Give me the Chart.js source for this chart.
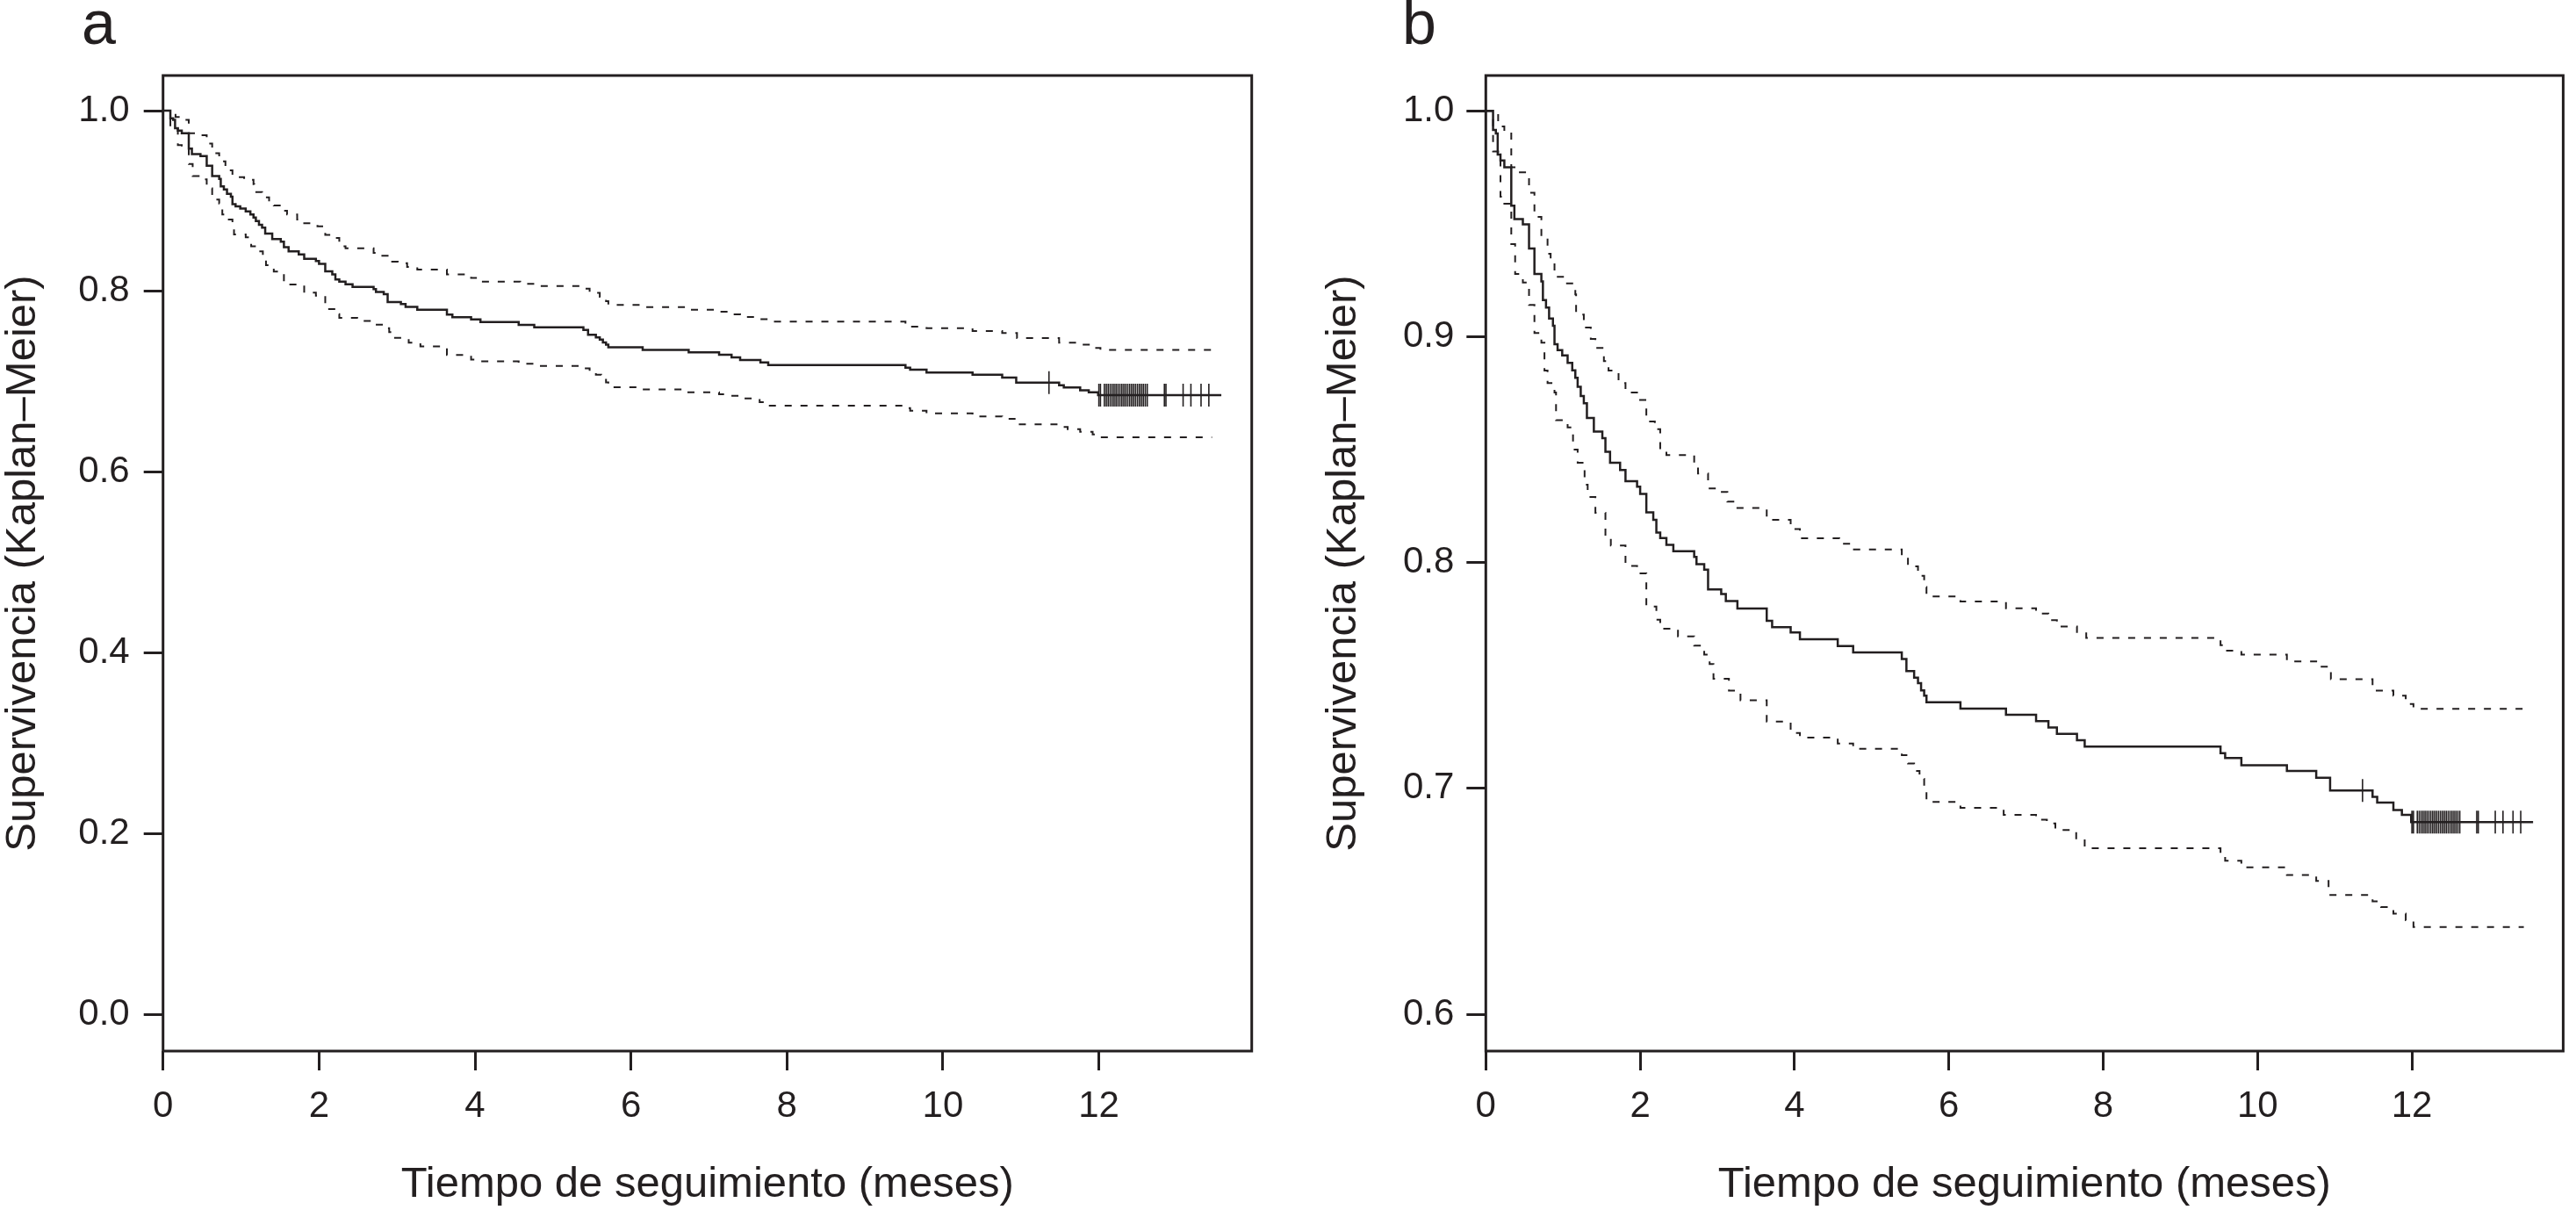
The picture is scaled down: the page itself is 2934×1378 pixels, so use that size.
<!DOCTYPE html>
<html>
<head>
<meta charset="utf-8">
<script src="https://cdn.jsdelivr.net/npm/chart.js@4.4.1/dist/chart.umd.min.js"></script>
<style>
  html, body { margin: 0; padding: 0; background: #fff; }
  .panel { position: absolute; top: 0; width: 1467px; height: 1378px; }
</style>
</head>
<body>
<div class="panel" style="left:0"><canvas id="chartA"></canvas></div>
<div class="panel" style="left:1467px"><canvas id="chartB"></canvas></div>
<script>
// Kaplan-Meier estimate (months, survival)
const timeMain = [0, 0.094, 0.13, 0.154, 0.19, 0.24, 0.33, 0.37, 0.48, 0.56, 0.63, 0.72, 0.74, 0.78, 0.82, 0.87, 0.89, 0.93, 0.99,
  1.06, 1.12, 1.16, 1.19, 1.23, 1.27, 1.31, 1.40, 1.51, 1.55, 1.61, 1.74, 1.81, 1.96, 2.00, 2.08, 2.17, 2.21, 2.26, 2.34, 2.43,
  2.70, 2.73, 2.83, 2.88, 3.05, 3.11, 3.26, 3.64, 3.71, 3.95, 4.07, 4.56, 4.76, 5.39, 5.45, 5.55, 5.60, 5.64, 5.68, 5.71, 6.15,
  6.74, 7.13, 7.29, 7.40, 7.66, 7.76, 9.52, 9.58, 9.79, 10.38, 10.76, 10.94, 11.49, 11.55, 11.76, 11.87, 11.99, 13.57];
const survMain = [1.0, 0.9915, 0.9899, 0.9806, 0.978, 0.975, 0.958, 0.952, 0.9497, 0.939, 0.9277, 0.9244, 0.9162, 0.9129, 0.908, 0.9048, 0.8966, 0.894, 0.8917,
  0.8884, 0.8851, 0.8818, 0.8778, 0.8737, 0.8705, 0.864, 0.858, 0.855, 0.849, 0.8442, 0.841, 0.836, 0.8336, 0.8304, 0.8222, 0.8189, 0.8133, 0.8108, 0.8078, 0.805,
  0.8025, 0.7993, 0.7968, 0.7881, 0.786, 0.7829, 0.7796, 0.7742, 0.7714, 0.769, 0.766, 0.763, 0.7602, 0.7573, 0.7519, 0.749, 0.7466, 0.7434, 0.741, 0.7381, 0.7353,
  0.7326, 0.7298, 0.727, 0.7241, 0.7213, 0.7185, 0.7156, 0.7134, 0.7102, 0.7077, 0.7047, 0.6991, 0.6962, 0.6937, 0.6904, 0.6883, 0.6851, 0.6851];

// upper 95% band
const timeUpper = [0, 0.16, 0.24, 0.33, 0.42, 0.56, 0.63, 0.72, 0.80, 0.84, 0.89, 1.04, 1.16, 1.17, 1.27, 1.36, 1.42, 1.53, 1.59, 1.72,
  1.81, 1.98, 2.08, 2.19, 2.26, 2.34, 2.70, 2.75, 2.88, 3.01, 3.13, 3.26, 3.64, 3.95, 4.07, 4.58, 4.77, 5.39, 5.47, 5.60, 5.68,
  5.71, 6.15, 6.74, 7.13, 7.29, 7.40, 7.66, 7.78, 9.52, 9.58, 9.79, 10.38, 10.76, 10.95, 11.49, 11.76, 11.92, 12.02, 13.45];
const survUpper = [1.0, 0.9931, 0.9899, 0.975, 0.9727, 0.9637, 0.953, 0.944, 0.9367, 0.934, 0.9265, 0.9236, 0.9187, 0.9098, 0.904, 0.899, 0.895, 0.8892, 0.885, 0.8794,
  0.8753, 0.872, 0.8624, 0.859, 0.85, 0.8476, 0.8426, 0.8394, 0.8328, 0.8312, 0.827, 0.8241, 0.8189, 0.8148, 0.8107, 0.8083, 0.8058, 0.803, 0.7983, 0.7941, 0.7892,
  0.785, 0.7827, 0.7797, 0.7774, 0.7745, 0.7717, 0.7692, 0.7666, 0.7634, 0.761, 0.7592, 0.7562, 0.7539, 0.7483, 0.7433, 0.741, 0.7374, 0.7352, 0.7352];

// lower 95% band
const timeLower = [0, 0.094, 0.16, 0.19, 0.24, 0.33, 0.38, 0.48, 0.56, 0.63, 0.72, 0.76, 0.80, 0.89, 0.91, 1.06, 1.13, 1.19, 1.28, 1.32,
  1.42, 1.55, 1.62, 1.81, 1.96, 2.08, 2.21, 2.26, 2.49, 2.70, 2.83, 2.90, 2.95, 3.15, 3.30, 3.64, 3.95, 4.07, 4.56, 4.76, 5.39,
  5.47, 5.55, 5.62, 5.68, 5.71, 6.15, 6.71, 7.13, 7.27, 7.38, 7.65, 7.76, 9.52, 9.58, 9.79, 10.38, 10.76, 10.92, 11.49, 11.60,
  11.76, 11.92, 12.02, 13.45];
const survLower = [1.0, 0.982, 0.980, 0.962, 0.9588, 0.941, 0.9277, 0.924, 0.914, 0.9016, 0.8973, 0.885, 0.8794, 0.8753, 0.863, 0.8598, 0.85, 0.8442, 0.8344, 0.829,
  0.822, 0.8107, 0.8075, 0.7985, 0.7952, 0.7805, 0.7747, 0.7707, 0.7673, 0.7632, 0.7592, 0.755, 0.7485, 0.7433, 0.739, 0.7296, 0.7245, 0.7225, 0.7199, 0.7175, 0.7147,
  0.711, 0.7077, 0.7042, 0.6992, 0.694, 0.6914, 0.6883, 0.6861, 0.6845, 0.6816, 0.6775, 0.6735, 0.6708, 0.668, 0.665, 0.6616, 0.659, 0.6528, 0.650, 0.6475,
  0.6445, 0.6416, 0.6386, 0.6386];

// censored observations
const censorTime = [11.36, 12.00, 12.02, 12.07, 12.095, 12.12, 12.145, 12.17, 12.195, 12.22, 12.245, 12.27, 12.295, 12.32, 12.345,
  12.37, 12.395, 12.42, 12.445, 12.47, 12.495, 12.52, 12.545, 12.57, 12.595, 12.62, 12.84, 12.86, 13.08, 13.18, 13.31, 13.41];
const censorSurv = [0.6991, 0.6851, 0.6851, 0.6851, 0.6851, 0.6851, 0.6851, 0.6851, 0.6851, 0.6851, 0.6851, 0.6851, 0.6851, 0.6851, 0.6851,
  0.6851, 0.6851, 0.6851, 0.6851, 0.6851, 0.6851, 0.6851, 0.6851, 0.6851, 0.6851, 0.6851, 0.6851, 0.6851, 0.6851, 0.6851, 0.6851, 0.6851];

const xTicks = [0, 2, 4, 6, 8, 10, 12];
const yTicksA = [0, 0.2, 0.4, 0.6, 0.8, 1.0];
const yTicksB = [0.6, 0.7, 0.8, 0.9, 1.0];
const panelLabels = ['a', 'b'];
const xTitle = 'Tiempo de seguimiento (meses)';
const yTitle = 'Supervivencia (Kaplan\u2013Meier)';

const INK = '#231f20';
const FONT = '"Liberation Sans", Arial, Helvetica, sans-serif';

const toPoints = (xs, ys) => xs.map((x, i) => ({ x: x, y: ys[i] }));

// box around the plot region + panel letter
const framePlugin = {
  id: 'frame',
  afterDraw(chart, args, opts) {
    const { ctx, chartArea } = chart;
    ctx.save();
    ctx.strokeStyle = INK;
    ctx.lineWidth = 3;
    ctx.strokeRect(chartArea.left, chartArea.top, chartArea.right - chartArea.left, chartArea.bottom - chartArea.top);
    ctx.fillStyle = INK;
    ctx.font = '70px ' + FONT;
    ctx.textBaseline = 'alphabetic';
    ctx.fillText(opts.label, opts.labelX, 50);
    ctx.restore();
  }
};

function makePanel(id, cfg) {
  const ctx = document.getElementById(id).getContext('2d');
  return new Chart(ctx, {
    type: 'line',
    data: {
      datasets: [
        { data: toPoints(timeUpper, survUpper), borderColor: INK, borderWidth: 2, borderDash: [8, 10], stepped: true, pointRadius: 0 },
        { data: toPoints(timeLower, survLower), borderColor: INK, borderWidth: 2, borderDash: [8, 10], stepped: true, pointRadius: 0 },
        { data: toPoints(timeMain, survMain), borderColor: INK, borderWidth: 2.5, stepped: true, pointRadius: 0 },
        { data: toPoints(censorTime, censorSurv), showLine: false, pointStyle: 'line', pointRotation: 90,
          pointRadius: 13, pointBorderWidth: 1.6, pointBorderColor: INK, borderColor: INK }
      ]
    },
    options: {
      responsive: true,
      maintainAspectRatio: false,
      animation: false,
      layout: { padding: { left: cfg.padLeft, right: cfg.padRight, top: 86, bottom: 0 } },
      plugins: {
        legend: { display: false },
        tooltip: { enabled: false },
        frame: { label: cfg.label, labelX: cfg.labelX }
      },
      scales: {
        x: {
          type: 'linear',
          min: 0,
          max: 13.96,
          afterBuildTicks: (axis) => { axis.ticks = xTicks.map(v => ({ value: v })); },
          afterFit: (scale) => { scale.height = 181; },
          border: { display: false },
          grid: { drawOnChartArea: false, drawTicks: true, tickLength: 22, lineWidth: 3, color: INK },
          ticks: { color: INK, font: { family: FONT, size: 42 }, padding: 16, maxRotation: 0, callback: (v) => String(v) },
          title: { display: true, text: xTitle, color: INK, font: { family: FONT, size: 49, lineHeight: 1 }, padding: { top: 0, bottom: 4 } }
        },
        y: {
          type: 'linear',
          min: cfg.yMin,
          max: cfg.yMax,
          afterBuildTicks: (axis) => { axis.ticks = cfg.yTicks.map(v => ({ value: v })); },
          afterFit: (scale) => { scale.width = cfg.yWidth; },
          border: { display: false },
          grid: { drawOnChartArea: false, drawTicks: true, tickLength: 22, lineWidth: 3, color: INK },
          ticks: { color: INK, font: { family: FONT, size: 42 }, padding: cfg.tickPad, callback: (v) => Number(v).toFixed(1) },
          title: { display: true, text: yTitle, color: INK, font: { family: FONT, size: 49, lineHeight: 1 }, padding: { top: 2, bottom: 0 } }
        }
      }
    },
    plugins: [framePlugin]
  });
}

makePanel('chartA', { label: panelLabels[0], labelX: 93, padLeft: 0, padRight: 41.3, yWidth: 185.7,
  yMin: -0.0408, yMax: 1.0389, yTicks: yTicksA, tickPad: 16 });
makePanel('chartB', { label: panelLabels[1], labelX: 130, padLeft: 37, padRight: 2, yWidth: 188.3,
  yMin: 0.5837, yMax: 1.0156, yTicks: yTicksB, tickPad: 14 });
</script>
</body>
</html>
